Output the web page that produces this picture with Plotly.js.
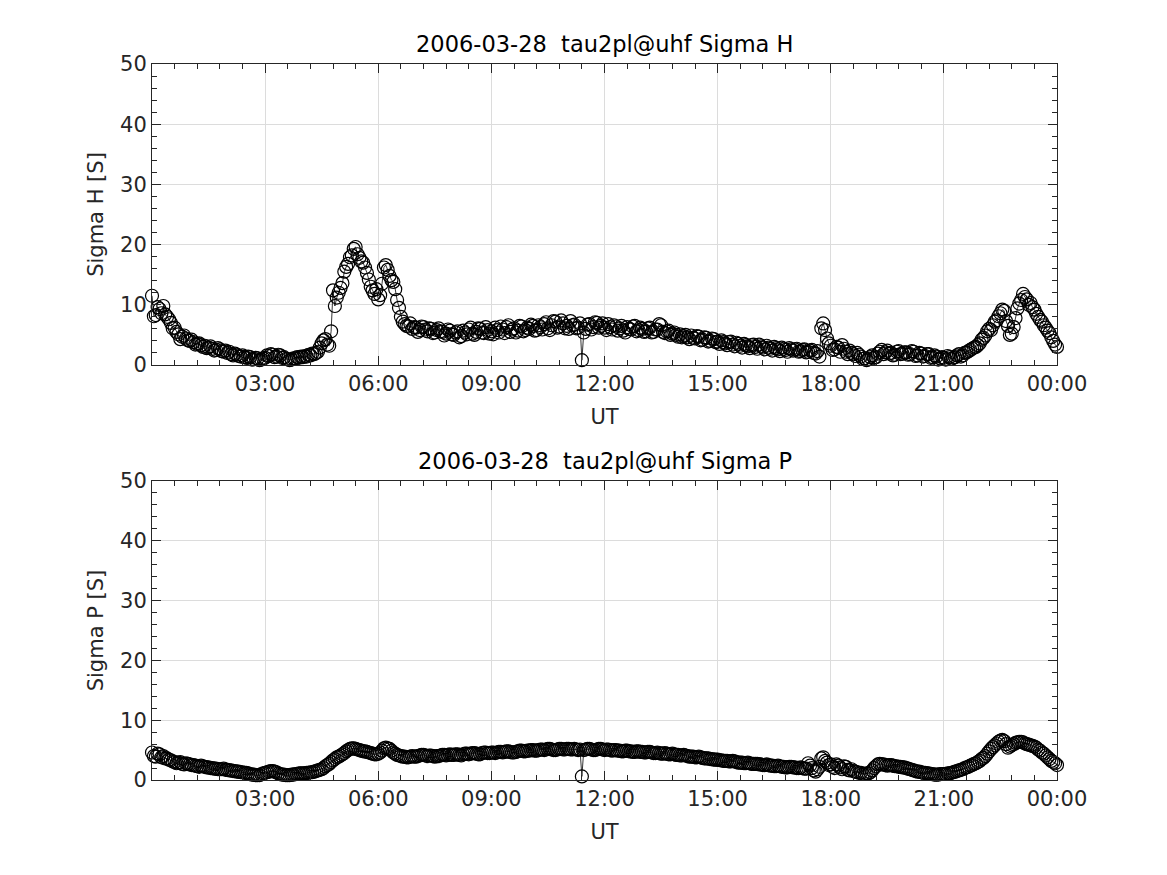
<!DOCTYPE html>
<html>
<head>
<meta charset="utf-8">
<script src="https://cdn.plot.ly/plotly-3.0.1.min.js"></script>
<style>html,body{margin:0;padding:0;background:#fff;}#chart{width:1167px;height:875px;}</style>
</head>
<body>
<div id="chart"></div>
<script>
// Sample times, minutes UT on 2006-03-28 (3-minute integration)
const timesMin = [
 0,3,6,9,12,15,18,21,24,27,30,33,36,39,42,45,48,51,54,57,
 60,63,66,69,72,75,78,81,84,87,90,93,96,99,102,105,108,111,114,117,
 120,123,126,129,132,135,138,141,144,147,150,153,156,159,162,165,168,171,174,177,
 180,183,186,189,192,195,198,201,204,207,210,213,216,219,222,225,228,231,234,237,
 240,243,246,249,252,255,258,261,264,267,270,273,276,279,282,285,288,291,294,297,
 300,303,306,309,312,315,318,321,324,327,330,333,336,339,342,345,348,351,354,357,
 360,363,366,369,372,375,378,381,384,387,390,393,396,399,402,405,408,411,414,417,
 420,423,426,429,432,435,438,441,444,447,450,453,456,459,462,465,468,471,474,477,
 480,483,486,489,492,495,498,501,504,507,510,513,516,519,522,525,528,531,534,537,
 540,543,546,549,552,555,558,561,564,567,570,573,576,579,582,585,588,591,594,597,
 600,603,606,609,612,615,618,621,624,627,630,633,636,639,642,645,648,651,654,657,
 660,663,666,669,672,675,678,681,684,687,690,693,696,699,702,705,708,711,714,717,
 720,723,726,729,732,735,738,741,744,747,750,753,756,759,762,765,768,771,774,777,
 780,783,786,789,792,795,798,801,804,807,810,813,816,819,822,825,828,831,834,837,
 840,843,846,849,852,855,858,861,864,867,870,873,876,879,882,885,888,891,894,897,
 900,903,906,909,912,915,918,921,924,927,930,933,936,939,942,945,948,951,954,957,
 960,963,966,969,972,975,978,981,984,987,990,993,996,999,1002,1005,1008,1011,1014,1017,
 1020,1023,1026,1029,1032,1035,1038,1041,1044,1047,1050,1053,1056,1059,1062,1065,1068,1071,1074,1077,
 1080,1083,1086,1089,1092,1095,1098,1101,1104,1107,1110,1113,1116,1119,1122,1125,1128,1131,1134,1137,
 1140,1143,1146,1149,1152,1155,1158,1161,1164,1167,1170,1173,1176,1179,1182,1185,1188,1191,1194,1197,
 1200,1203,1206,1209,1212,1215,1218,1221,1224,1227,1230,1233,1236,1239,1242,1245,1248,1251,1254,1257,
 1260,1263,1266,1269,1272,1275,1278,1281,1284,1287,1290,1293,1296,1299,1302,1305,1308,1311,1314,1317,
 1320,1323,1326,1329,1332,1335,1338,1341,1344,1347,1350,1353,1356,1359,1362,1365,1368,1371,1374,1377,
 1380,1383,1386,1389,1392,1395,1398,1401,1404,1407,1410,1413,1416,1419,1422,1425,1428,1431,1434,1437,
 1440
];

// Hall conductance [S]
const sigmaH = [
 11.5,8.1,8.3,9.6,9.3,8.6,9.8,8.4,8.0,7.6,7.0,6.1,6.2,5.5,5.1,4.3,4.7,4.9,4.4,4.1,
 4.0,4.2,3.8,3.4,3.5,3.6,3.3,3.0,3.2,2.8,2.9,3.1,2.7,2.4,2.5,2.8,2.6,2.3,2.2,2.4,
 2.0,2.2,1.8,1.6,1.9,1.7,1.5,1.4,1.6,1.3,1.2,1.4,1.3,0.9,1.0,1.2,1.1,0.8,0.9,1.1,
 1.2,1.6,1.5,1.8,1.7,1.3,1.4,1.7,1.6,1.2,1.3,1.0,1.0,0.8,0.9,1.1,1.1,1.3,1.2,1.4,
 1.3,1.5,1.4,1.7,1.6,1.9,1.8,2.0,2.2,2.9,3.6,4.1,4.3,3.4,3.2,5.6,12.4,9.8,11.2,12.0,
 12.8,13.6,15.5,16.3,16.8,17.9,18.2,19.3,19.6,18.4,17.8,17.2,17.0,16.2,15.3,14.2,13.0,12.4,11.8,12.6,
 10.9,11.6,13.5,16.2,16.6,15.8,14.8,14.1,13.8,12.6,10.8,9.5,8.0,7.2,6.8,6.5,6.4,6.9,6.0,6.3,
 6.2,5.5,5.8,6.4,6.3,5.9,5.6,6.1,6.0,5.3,5.4,5.8,6.1,5.6,5.5,4.9,5.2,5.9,5.7,5.1,
 5.0,5.4,5.6,4.6,4.8,5.7,5.4,5.1,5.9,6.2,5.2,5.0,5.5,6.1,6.0,5.4,5.3,6.3,5.8,5.2,
 5.6,5.1,6.2,5.8,5.4,6.4,5.9,5.3,6.3,6.6,5.5,5.9,6.1,5.4,5.7,6.5,6.4,5.6,5.8,6.2,
 6.0,6.7,6.5,5.7,5.8,6.6,6.3,5.9,6.8,7.1,6.1,5.8,6.6,7.3,7.2,6.2,6.4,7.4,6.9,6.1,
 6.5,6.0,7.3,6.6,6.7,6.1,6.2,6.9,0.8,5.4,6.0,6.7,6.8,5.9,6.3,7.1,7.0,6.2,6.5,6.9,
 6.2,5.8,6.8,6.3,5.9,6.6,6.4,5.7,6.1,6.5,5.7,5.4,6.3,6.0,5.9,6.4,6.5,5.6,5.8,6.2,
 6.0,5.5,5.6,6.1,6.2,5.4,5.5,5.9,5.9,6.8,6.6,5.5,5.3,5.6,5.7,5.0,5.2,5.4,5.0,4.7,
 5.1,4.6,4.8,5.0,4.6,4.3,4.9,4.5,4.4,4.8,4.7,4.1,4.2,4.6,4.5,3.9,4.0,4.4,4.3,3.8,
 3.9,3.5,4.1,3.8,3.6,3.3,3.8,3.9,3.4,3.1,3.7,3.5,3.2,2.9,3.5,3.3,3.1,2.8,3.3,3.4,
 3.0,2.7,3.4,3.1,2.9,2.6,3.2,2.9,2.7,2.4,3.0,2.8,2.6,2.3,2.9,2.7,2.5,2.2,2.8,2.6,
 2.4,2.6,2.7,2.2,2.3,2.5,2.6,2.1,2.2,2.4,2.5,2.0,1.9,2.3,1.4,6.1,6.9,5.8,4.4,3.6,
 3.2,2.5,2.6,3.0,2.9,2.2,3.3,2.7,2.2,1.8,2.4,2.0,1.8,1.5,2.0,1.7,1.4,1.0,1.1,0.8,
 1.0,1.3,1.6,1.2,1.3,1.9,2.2,2.5,1.8,2.1,2.4,1.9,2.0,1.6,1.7,2.2,2.3,1.8,1.9,2.1,
 2.1,1.7,1.8,2.3,2.2,1.5,1.6,2.0,1.9,1.4,1.5,1.8,1.8,1.2,1.3,1.6,1.4,0.9,1.1,1.3,
 1.2,0.9,1.5,1.3,1.0,1.2,1.3,1.6,1.8,1.4,1.6,2.0,2.1,2.3,2.5,2.7,2.9,3.0,3.3,3.6,
 4.2,4.5,4.9,5.6,6.0,5.8,6.6,7.2,7.4,8.1,8.6,9.2,9.0,7.3,6.5,5.0,5.2,6.3,7.8,9.4,
 10.2,10.8,11.8,11.3,10.9,10.0,10.3,9.6,9.2,8.5,8.0,7.5,7.2,6.6,6.2,5.7,5.3,4.6,4.0,3.4,
 3.0
];

// Pedersen conductance [S]
const sigmaP = [
 4.6,4.0,3.9,4.4,4.3,3.8,4.0,3.6,3.6,3.4,3.3,3.1,3.0,2.8,2.9,3.0,2.7,2.6,2.8,2.7,
 2.6,2.5,2.5,2.4,2.3,2.2,2.4,2.3,2.2,2.1,2.1,2.0,2.0,1.9,1.9,1.8,1.8,1.8,1.9,1.7,
 1.7,1.6,1.6,1.5,1.5,1.4,1.4,1.3,1.3,1.2,1.2,1.1,1.0,0.9,0.9,0.8,0.8,0.8,1.0,1.1,
 1.2,1.3,1.4,1.5,1.5,1.4,1.3,1.1,1.0,0.9,0.9,0.8,0.8,0.8,0.9,0.9,1.0,1.0,1.1,1.1,
 1.1,1.1,1.2,1.2,1.3,1.3,1.4,1.5,1.6,1.7,1.8,2.0,2.3,2.5,2.7,3.0,3.3,3.5,3.8,3.9,
 4.1,4.3,4.5,4.8,5.0,5.2,5.3,5.3,5.2,5.1,5.0,4.9,4.8,4.8,4.7,4.6,4.5,4.4,4.3,4.3,
 4.4,4.6,4.9,5.3,5.4,5.3,5.2,4.9,4.6,4.4,4.2,4.1,4.0,3.9,3.9,3.8,3.8,3.9,4.0,3.9,
 3.9,4.0,4.1,4.2,4.2,4.1,4.0,4.1,4.1,4.0,3.9,4.0,4.0,4.1,4.2,4.2,4.1,4.2,4.3,4.2,
 4.2,4.3,4.3,4.2,4.1,4.3,4.4,4.4,4.3,4.4,4.5,4.5,4.4,4.3,4.3,4.5,4.6,4.6,4.5,4.5,
 4.6,4.6,4.5,4.6,4.7,4.7,4.6,4.7,4.8,4.8,4.7,4.6,4.6,4.7,4.8,4.9,4.9,4.8,4.8,4.9,
 4.9,5.0,5.0,4.9,4.9,5.0,5.1,5.1,5.0,5.1,5.2,5.2,5.1,5.0,5.0,5.1,5.2,5.2,5.1,5.1,
 5.2,5.2,5.1,5.1,5.2,5.1,5.0,5.1,0.6,5.0,5.1,5.2,5.2,5.1,5.0,5.0,5.1,5.2,5.2,5.1,
 5.0,5.1,5.1,5.0,4.9,5.0,5.0,4.9,4.9,4.8,4.8,4.9,4.9,4.8,4.8,4.7,4.7,4.8,4.8,4.7,
 4.7,4.6,4.6,4.7,4.7,4.6,4.5,4.5,4.6,4.5,4.4,4.4,4.5,4.4,4.3,4.3,4.4,4.3,4.2,4.2,
 4.1,4.1,4.2,4.1,4.0,3.9,3.9,3.9,3.8,3.8,3.9,3.8,3.7,3.6,3.6,3.6,3.5,3.5,3.4,3.4,
 3.4,3.3,3.3,3.2,3.2,3.2,3.1,3.1,3.2,3.1,3.0,2.9,2.9,2.9,2.8,2.8,2.9,2.8,2.7,2.7,
 2.7,2.7,2.6,2.6,2.5,2.5,2.6,2.5,2.4,2.4,2.3,2.3,2.4,2.3,2.2,2.2,2.1,2.1,2.2,2.2,
 2.1,2.1,2.0,2.0,2.1,2.0,1.9,1.9,2.8,2.4,2.0,1.6,1.4,1.8,2.2,3.6,3.8,3.2,2.9,2.5,
 2.6,2.2,2.0,2.6,2.4,2.1,1.8,2.3,2.2,1.7,1.6,1.8,1.5,1.4,1.3,1.2,1.2,1.0,1.0,1.1,
 1.1,1.3,1.6,2.0,2.3,2.6,2.7,2.6,2.6,2.5,2.4,2.5,2.5,2.4,2.3,2.3,2.2,2.2,2.1,2.1,
 2.0,1.9,1.8,1.7,1.6,1.5,1.4,1.4,1.3,1.2,1.2,1.1,1.1,1.0,1.0,0.9,0.9,0.9,1.0,1.0,
 1.0,1.0,1.1,1.1,1.2,1.3,1.4,1.5,1.6,1.7,1.8,2.0,2.1,2.2,2.4,2.5,2.7,2.8,3.0,3.2,
 3.5,3.7,4.0,4.4,4.8,5.2,5.5,5.8,6.1,6.4,6.6,6.7,6.5,6.0,5.4,5.6,5.8,6.0,6.2,6.3,
 6.4,6.4,6.3,6.1,6.0,5.9,5.8,5.7,5.6,5.4,5.1,4.9,4.6,4.4,4.1,3.8,3.5,3.2,3.0,2.8,
 2.5
];

const xTickVals = [180, 360, 540, 720, 900, 1080, 1260, 1440];
const xTickText = ['03:00', '06:00', '09:00', '12:00', '15:00', '18:00', '21:00', '00:00'];
const yTickVals = [0, 10, 20, 30, 40, 50];
const panelTitles = ['2006-03-28  tau2pl@uhf Sigma H', '2006-03-28  tau2pl@uhf Sigma P'];
const yTitles = ['Sigma H [S]', 'Sigma P [S]'];
const xTitle = 'UT';

const FONT = 'DejaVu Sans, Liberation Sans, sans-serif';
const AX = '#262626';

function trace(y, xa, ya) {
  return {
    x: timesMin, y: y, xaxis: xa, yaxis: ya,
    type: 'scatter', mode: 'lines+markers', cliponaxis: false,
    line: {color: '#000', width: 0.8},
    marker: {symbol: 'circle-open', size: 13, color: '#000', line: {width: 1.2, color: '#000'}},
    hoverinfo: 'skip', showlegend: false
  };
}

function xAxis(anchor) {
  return {
    anchor: anchor, range: [0, 1440], type: 'linear',
    tickmode: 'array', tickvals: xTickVals, ticktext: xTickText,
    ticks: 'inside', ticklen: 9, tickwidth: 1, tickcolor: AX,
    showline: true, linecolor: AX, linewidth: 1, mirror: 'ticks',
    showgrid: true, gridcolor: '#dcdcdc', gridwidth: 1, zeroline: false,
    minor: {ticks: 'inside', ticklen: 5, tickwidth: 1, tickcolor: AX, tick0: 0, dtick: 36, showgrid: false},
    tickfont: {family: FONT, size: 21, color: AX},
    title: {text: xTitle, font: {family: FONT, size: 21, color: AX}, standoff: 14},
    fixedrange: true
  };
}
function yAxis(anchor, domain, title) {
  return {
    anchor: anchor, domain: domain, range: [0, 50],
    tickmode: 'array', tickvals: yTickVals,
    ticks: 'inside', ticklen: 9, tickwidth: 1, tickcolor: AX,
    showline: true, linecolor: AX, linewidth: 1, mirror: 'ticks',
    showgrid: true, gridcolor: '#dcdcdc', gridwidth: 1, zeroline: false,
    minor: {ticks: 'inside', ticklen: 5, tickwidth: 1, tickcolor: AX, tick0: 0, dtick: 2, showgrid: false},
    tickfont: {family: FONT, size: 21, color: AX},
    title: {text: title, font: {family: FONT, size: 21, color: AX}, standoff: 10},
    fixedrange: true
  };
}

const data = [trace(sigmaH, 'x', 'y'), trace(sigmaP, 'x2', 'y2')];

const layout = {
  width: 1167, height: 875,
  paper_bgcolor: '#fff', plot_bgcolor: '#fff',
  margin: {l: 152, r: 110, t: 64, b: 95},
  font: {family: FONT, color: AX},
  xaxis: xAxis('y'),
  yaxis: yAxis('x', [0.5796, 1], yTitles[0]),
  xaxis2: xAxis('y2'),
  yaxis2: yAxis('x2', [0, 0.4176], yTitles[1]),
  annotations: [
    {text: panelTitles[0], xref: 'x domain', yref: 'y domain', x: 0.5, y: 1, xanchor: 'center', yanchor: 'bottom', yshift: 5, showarrow: false, font: {family: FONT, size: 22.5, color: '#000'}},
    {text: panelTitles[1], xref: 'x2 domain', yref: 'y2 domain', x: 0.5, y: 1, xanchor: 'center', yanchor: 'bottom', yshift: 5, showarrow: false, font: {family: FONT, size: 22.5, color: '#000'}}
  ],
  showlegend: false
};

Plotly.newPlot('chart', data, layout, {staticPlot: true, displayModeBar: false});
</script>
</body>
</html>
